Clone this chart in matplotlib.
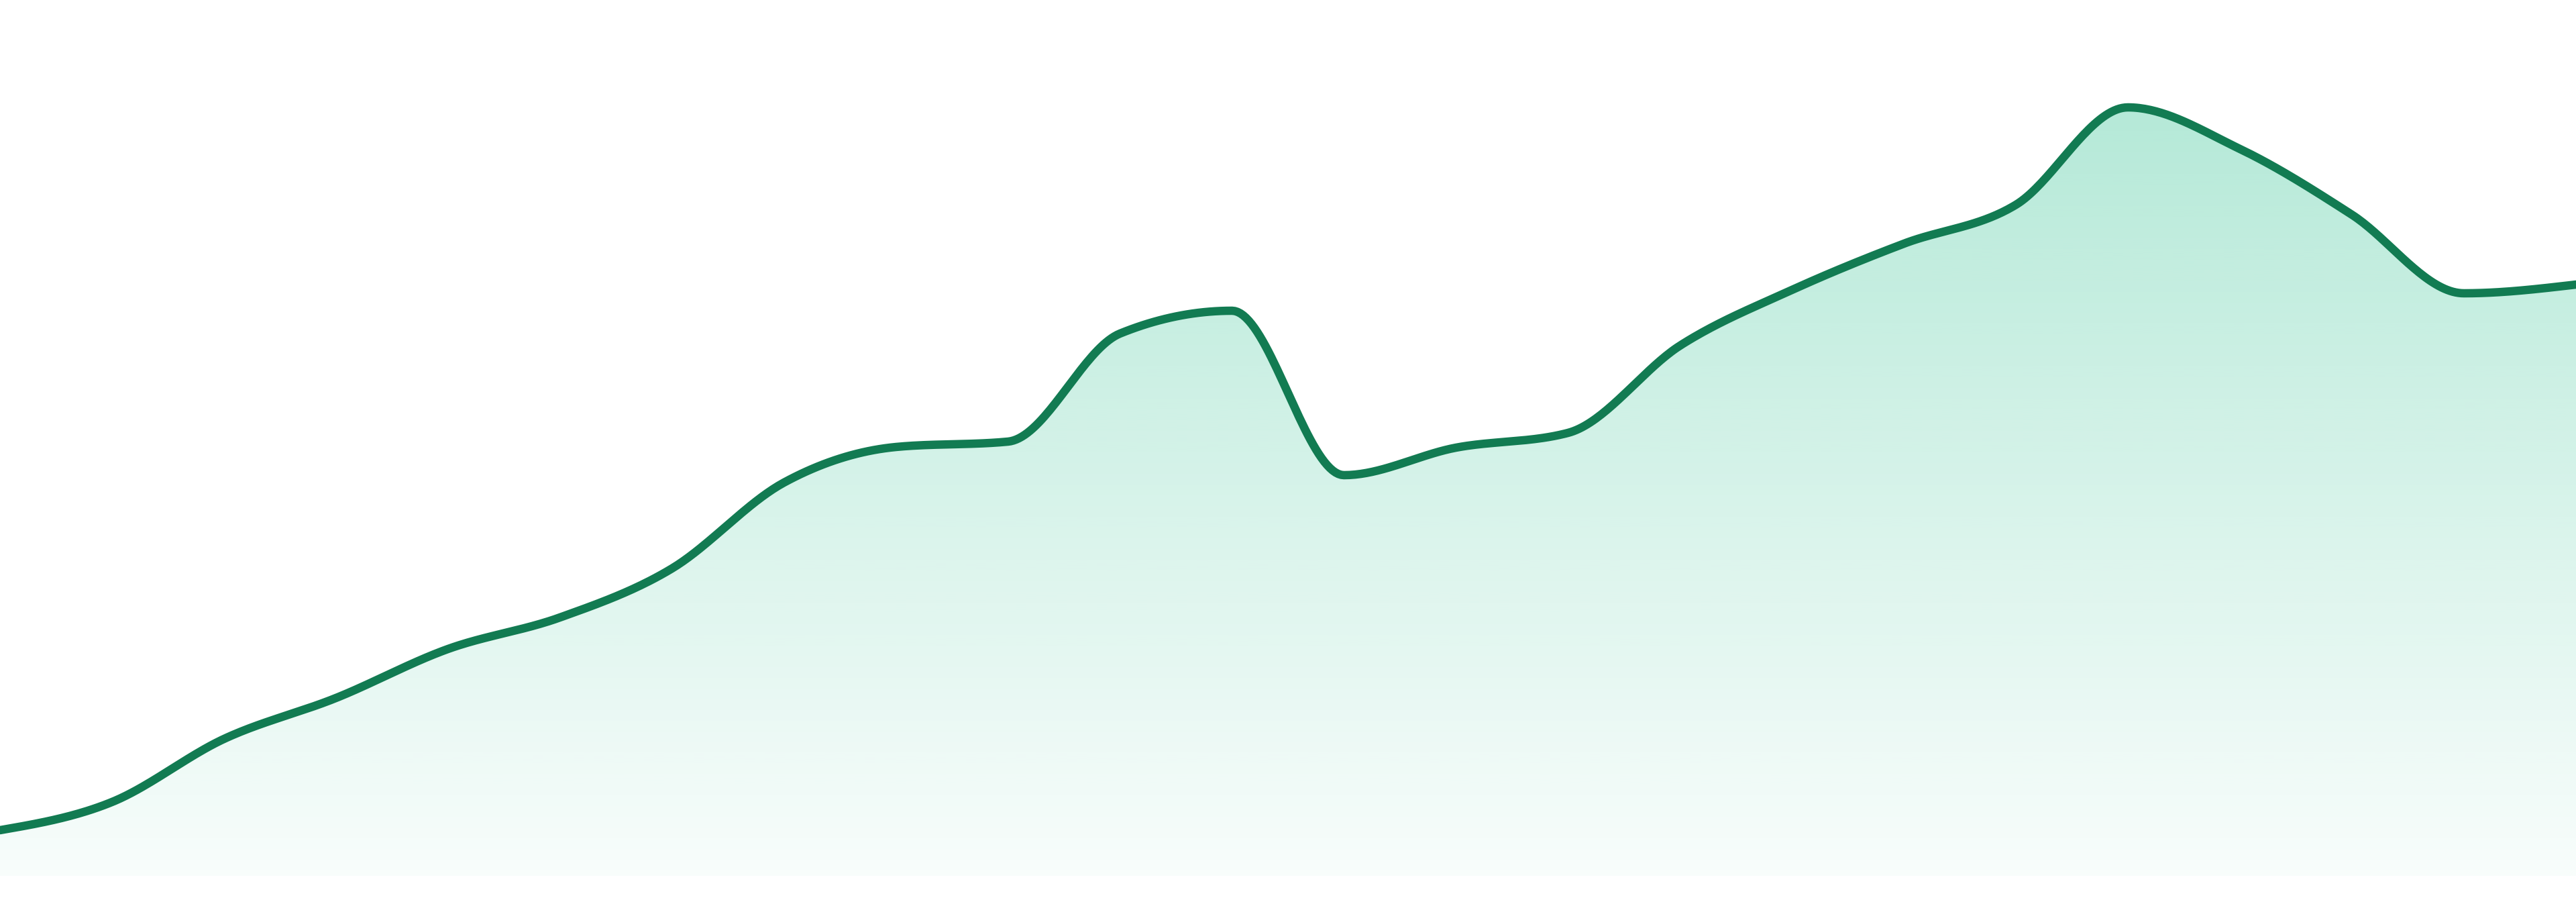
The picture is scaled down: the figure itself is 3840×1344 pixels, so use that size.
import numpy as np
import matplotlib
matplotlib.use("Agg")
import matplotlib.pyplot as plt
from matplotlib.colors import to_rgb

# Data (equally spaced samples, arbitrary units)
values = [6.8, 11.0, 20.4, 26.5, 33.8, 38.5, 45.8, 58.6, 63.9, 64.7, 80.8, 84.2,
          59.7, 63.8, 66.0, 79.0, 87.3, 94.2, 100.0, 114.5, 108.3, 98.5, 86.8, 88.1]
steps = list(range(len(values)))

line_color = "#127b52"
fill_color = "#10b981"


def monotone_x(x, y, n=40):
    # d3 curveMonotoneX style (Steffen slopes + cubic Hermite)
    x = np.asarray(x, float)
    y = np.asarray(y, float)
    h = np.diff(x)
    s = np.diff(y) / h
    t = np.zeros_like(y)
    for i in range(1, len(y) - 1):
        h0, h1 = h[i - 1], h[i]
        s0, s1 = s[i - 1], s[i]
        p = (s0 * h1 + s1 * h0) / (h0 + h1)
        t[i] = (np.sign(s0) + np.sign(s1)) * min(abs(s0), abs(s1), 0.5 * abs(p))
    t[0] = (3 * s[0] - t[1]) / 2
    t[-1] = (3 * s[-1] - t[-2]) / 2
    xs, ys = [], []
    for i in range(len(x) - 1):
        u = np.linspace(0, 1, n, endpoint=(i == len(x) - 2))
        h00 = 2 * u**3 - 3 * u**2 + 1
        h10 = u**3 - 2 * u**2 + u
        h01 = -2 * u**3 + 3 * u**2
        h11 = u**3 - u**2
        xs.append(x[i] + u * h[i])
        ys.append(h00 * y[i] + h10 * h[i] * t[i] + h01 * y[i + 1] + h11 * h[i] * t[i + 1])
    return np.concatenate(xs), np.concatenate(ys)


xs, ys = monotone_x(steps, values)

fig = plt.figure(figsize=(38.4, 13.44), dpi=100)
ax = fig.add_axes([0, 0, 1, 1])
ax.set_xlim(steps[0], steps[-1])
ax.set_ylim(-3.9, 130.5)
ax.axis("off")

# gradient fill under the curve
top = max(values)
rgb = to_rgb(fill_color)
grad = np.zeros((256, 1, 4))
grad[:, 0, :3] = rgb
grad[:, 0, 3] = np.linspace(0.31, 0.03, 256)
img = ax.imshow(grad, extent=[steps[0], steps[-1], 0, top], origin="upper",
                aspect="auto", interpolation="bilinear", zorder=1)
clip = plt.Polygon(np.column_stack([np.r_[xs, xs[-1], xs[0]], np.r_[ys, 0, 0]]),
                   transform=ax.transData, facecolor="none", edgecolor="none")
ax.add_patch(clip)
img.set_clip_path(clip)

ax.plot(xs, ys, color=line_color, lw=9, solid_capstyle="round", zorder=3)

fig.savefig("out.png", dpi=100, facecolor="white")
